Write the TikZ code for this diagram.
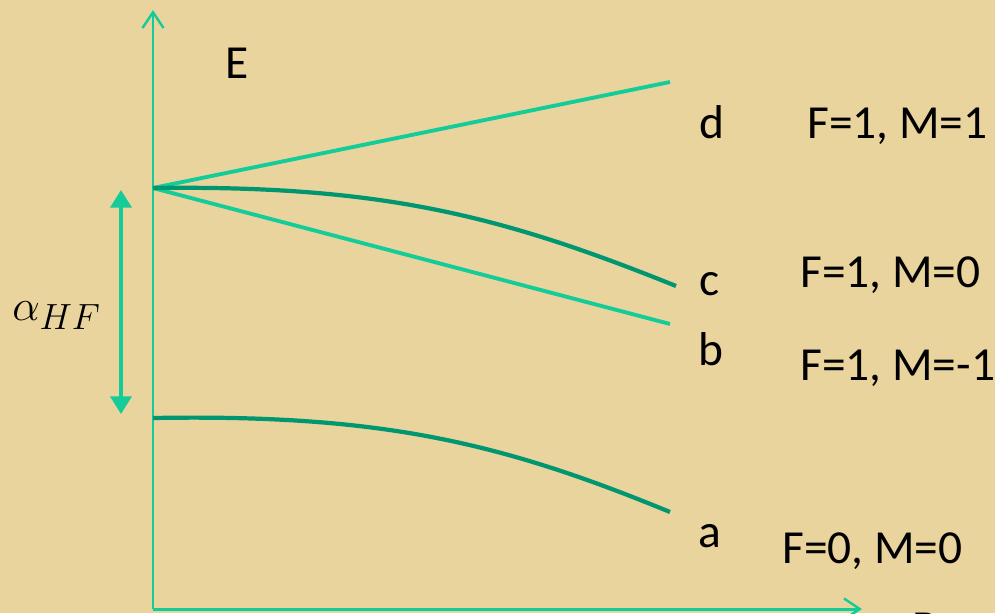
\documentclass[tikz,border=0pt]{standalone}
\usepackage{fontspec}
\setmainfont{Carlito}
\usepackage{xcolor}
\usetikzlibrary{arrows.meta,positioning}

\definecolor{parchment}{RGB}{234,212,158}
\definecolor{lightgreen}{RGB}{20,204,152}
\definecolor{darkgreen}{RGB}{0,150,112}

\begin{document}
\begin{tikzpicture}[
    x=0.02cm, y=-0.02cm,
    axis/.style={draw=lightgreen, line width=1.7pt, -{Straight Barb[length=9pt, width=12pt, line width=1.4pt]}},
    level/.style={draw=lightgreen, line width=2.2pt},
    shifted/.style={draw=darkgreen, line width=2.4pt},
    gap/.style={draw=lightgreen, line width=1.8pt, {Triangle[length=10pt, width=12pt]}-{Triangle[length=10pt, width=12pt]}},
    lbl/.style={font=\fontsize{27}{31}\selectfont, inner sep=0pt, anchor=base west}
]
\useasboundingbox (0,0) rectangle (995,613);
\clip (0,0) rectangle (995,613);
\fill[parchment] (0,0) rectangle (995,613);

% axes
\coordinate (orig) at (153,609);
\coordinate (ytop) at (153,10);
\coordinate (xend) at (862,609);
\draw[axis] (orig) -- (ytop);
\draw[axis] (orig) -- (xend);
\node[lbl] (elab) at (225,78) {E};
\node[lbl] (blab) at (912,643) {B};

% levels
\coordinate (upper) at (153,188);
\coordinate (lower) at (153,418);
\coordinate (dend) at (670,82);
\coordinate (cend) at (676,286);
\coordinate (bend) at (670,324);
\coordinate (aend) at (670,512);
\draw[level] (upper) -- (dend);
\draw[level] (upper) -- (bend);
\draw[shifted] (upper) .. controls (380,185) and (500,215) .. (cend);
\draw[shifted] (lower) .. controls (380,414) and (500,442) .. (aend);

% hyperfine splitting
\coordinate (gtop) at (121,190);
\coordinate (gbot) at (121,414);
\draw[gap] (gbot) -- (gtop);
\node[font=\fontsize{29}{33}\selectfont, inner sep=0pt, anchor=base west] (alpha) at (12,320) {$\alpha_{HF}$};

% state labels
\node[lbl] (d) at (699,138) {d};
\node[lbl] (c) at (699,295) {c};
\node[lbl] (b) at (698,365) {b};
\node[lbl] (a) at (698,547) {a};
\node[lbl] (dq) at (807,138) {F=1, M=1};
\node[lbl] (cq) at (800,287) {F=1, M=0};
\node[lbl] (bq) at (800,380) {F=1, M=-1};
\node[lbl] (aq) at (782,563) {F=0, M=0};
\end{tikzpicture}
\end{document}
